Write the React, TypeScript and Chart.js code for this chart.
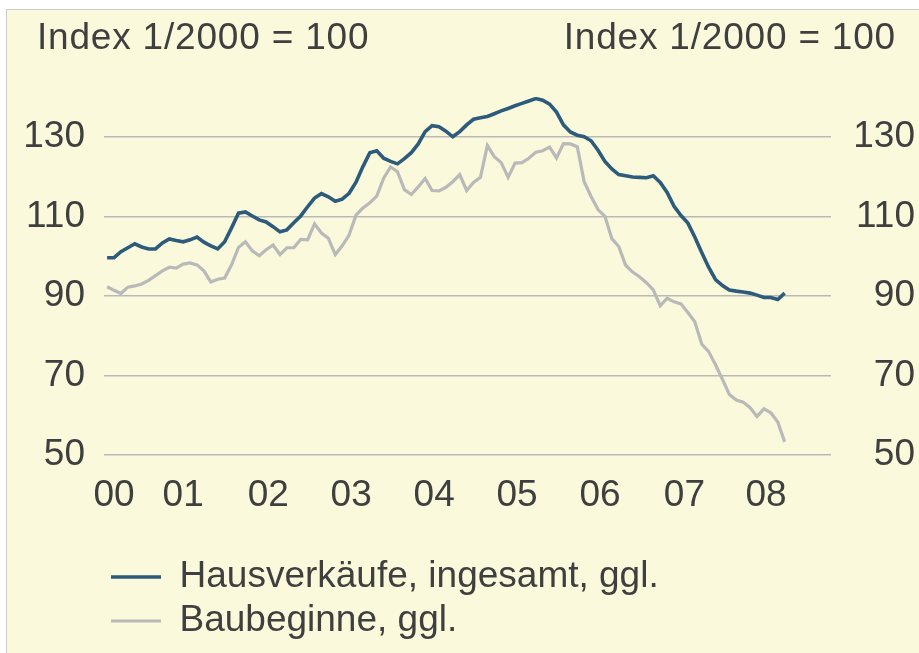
import React, { useEffect, useRef } from 'react';
import { Chart, registerables } from 'chart.js';

Chart.register(...registerables);

// Monthly observations, Jan 2000 .. Mar 2008 (index 0 = Jan 2000)
const hausverkaeufe = [
  99.6, 99.6, 101.1, 102.1, 103.1, 102.3, 101.8, 101.8, 103.3, 104.3, 103.9, 103.6,
  104.1, 104.8, 103.5, 102.6, 101.8, 103.6, 107.1, 110.8, 111.1, 110.1, 109.1, 108.6,
  107.4, 106.1, 106.6, 108.4, 110.1, 112.4, 114.6, 115.7, 114.9, 113.8, 114.3, 115.8,
  118.6, 122.5, 126.0, 126.5, 124.6, 123.8, 123.2, 124.5, 126.0, 128.2, 131.3, 132.8,
  132.5, 131.4, 130.0, 131.3, 133.0, 134.4, 134.8, 135.1, 135.8, 136.5, 137.1, 137.8,
  138.4, 139.0, 139.6, 139.2, 138.2, 136.2, 133.0, 131.2, 130.4, 130.0, 129.0, 126.6,
  123.8, 121.9, 120.5, 120.2, 119.9, 119.8, 119.7, 120.2, 118.5, 116.0, 112.5, 110.2,
  108.3, 104.8, 100.9, 97.2, 94.1, 92.6, 91.5, 91.2, 91.0, 90.7, 90.2, 89.6,
  89.6, 89.1, 90.7,
];

const baubeginne = [
  92.3, 91.4, 90.6, 92.2, 92.5, 93.0, 93.9, 95.1, 96.3, 97.2, 97.0, 98.0,
  98.3, 97.8, 96.3, 93.5, 94.2, 94.5, 97.8, 102.2, 103.6, 101.3, 100.1, 101.6,
  102.8, 100.4, 102.1, 102.1, 104.2, 104.1, 108.1, 105.8, 104.5, 100.4, 102.6, 105.3,
  110.3, 112.1, 113.4, 115.1, 119.6, 122.4, 121.2, 116.7, 115.5, 117.4, 119.5, 116.5,
  116.4, 117.3, 118.7, 120.5, 116.5, 118.5, 119.8, 127.8, 125.0, 123.5, 119.8, 123.4,
  123.5, 124.6, 126.1, 126.5, 127.4, 124.7, 128.3, 128.2, 127.5, 118.7, 115.0, 111.7,
  110.0, 104.4, 102.4, 97.7, 96.0, 94.8, 93.3, 91.5, 87.5, 89.4, 88.5, 88.0,
  85.8, 83.5, 77.9, 76.0, 72.7, 69.0, 65.2, 63.8, 63.3, 61.9, 59.7, 61.6,
  60.6, 58.3, 53.3,
];

const seriesLabels = ['Hausverkäufe, ingesamt, ggl.', 'Baubeginne, ggl.'];
const seriesColors = ['#2d5b7c', '#b9b9b9'];
const seriesWidths = [3.6, 3.2];

const xTickLabels = ['00', '01', '02', '03', '04', '05', '06', '07', '08'];
const xTickPositions = [1, 11, 23.3, 35.3, 47.3, 59.3, 71.3, 83.5, 95.3];
const xMin = -0.45;
const xMax = 104.7;

const yTicks = [50, 70, 90, 110, 130];
const yMin = 50;
const yMax = 140;

const axisTitle = 'Index 1/2000 = 100';

const FONT_FAMILY = '"Liberation Sans", Arial, Helvetica, sans-serif';
const TEXT_COLOR = '#3f3f3f';
const GRID_COLOR = '#b9b9b9';
const BG_COLOR = '#faf9db';
const FONT_SIZE = 37;

const headerPlugin = {
  id: 'headerTitles',
  afterDraw(chart: any) {
    const ctx = chart.ctx;
    ctx.save();
    ctx.font = `${FONT_SIZE}px ${FONT_FAMILY}`;
    try {
      (ctx as any).letterSpacing = '0.8px';
    } catch (e) {
      /* ignore */
    }
    ctx.fillStyle = TEXT_COLOR;
    ctx.textBaseline = 'alphabetic';
    ctx.textAlign = 'left';
    ctx.fillText(axisTitle, 37, 49);
    ctx.textAlign = 'right';
    ctx.fillText(axisTitle, 896, 49);
    ctx.restore();
  },
};

export default function App() {
  const canvasRef = useRef<HTMLCanvasElement | null>(null);

  useEffect(() => {
    const canvas = canvasRef.current;
    if (!canvas) return;
    const toPoints = (arr: number[]) => arr.map((v, i) => ({ x: i, y: v }));
    const font = { family: FONT_FAMILY, size: FONT_SIZE };
    const chart = new Chart(canvas, {
      type: 'line',
      data: {
        datasets: [
          {
            label: seriesLabels[0],
            data: toPoints(hausverkaeufe),
            borderColor: seriesColors[0],
            backgroundColor: seriesColors[0],
            borderWidth: seriesWidths[0],
            pointRadius: 0,
            tension: 0,
            yAxisID: 'y',
          },
          {
            label: seriesLabels[1],
            data: toPoints(baubeginne),
            borderColor: seriesColors[1],
            backgroundColor: seriesColors[1],
            borderWidth: seriesWidths[1],
            pointRadius: 0,
            tension: 0,
            yAxisID: 'y',
          },
        ],
      },
      options: {
        responsive: false,
        animation: false,
        devicePixelRatio: 1,
        layout: { padding: { left: 23, right: 4, top: 97, bottom: 3.5 } },
        plugins: {
          tooltip: { enabled: false },
          title: { display: false },
          legend: {
            display: true,
            position: 'bottom',
            align: 'start',
            fullSize: false,
            labels: {
              usePointStyle: true,
              pointStyle: 'line',
              pointStyleWidth: 50,
              boxHeight: 20,
              padding: 7,
              color: TEXT_COLOR,
              font,
            },
          },
        },
        scales: {
          x: {
            type: 'linear',
            min: xMin,
            max: xMax,
            grid: { display: false, drawTicks: false },
            border: { display: false },
            afterBuildTicks: (scale: any) => {
              scale.ticks = xTickPositions.map((v) => ({ value: v }));
            },
            afterFit: (scale: any) => {
              scale.height = 96.5;
            },
            ticks: {
              autoSkip: false,
              maxRotation: 0,
              minRotation: 0,
              padding: 19,
              color: TEXT_COLOR,
              font,
              callback: (_v: any, index: number) => xTickLabels[index],
            },
          },
          y: {
            type: 'linear',
            position: 'left',
            min: yMin,
            max: yMax,
            grid: { color: GRID_COLOR, lineWidth: 1.5, drawTicks: false },
            border: { display: false },
            afterBuildTicks: (scale: any) => {
              scale.ticks = yTicks.map((v) => ({ value: v }));
            },
            afterFit: (scale: any) => {
              scale.width = 81;
            },
            ticks: {
              padding: 19,
              color: TEXT_COLOR,
              font,
            },
          },
          y2: {
            type: 'linear',
            position: 'right',
            display: true,
            min: yMin,
            max: yMax,
            grid: { display: false, drawTicks: false },
            border: { display: false },
            afterBuildTicks: (scale: any) => {
              scale.ticks = yTicks.map((v) => ({ value: v }));
            },
            afterFit: (scale: any) => {
              scale.width = 84;
            },
            ticks: {
              padding: 22,
              crossAlign: 'far',
              color: TEXT_COLOR,
              font,
            },
          },
        },
      },
      plugins: [headerPlugin],
    } as any);
    return () => chart.destroy();
  }, []);

  return (
    <div
      style={{
        position: 'fixed',
        left: 0,
        top: 0,
        width: 919,
        height: 653,
        background: '#ffffff',
        overflow: 'hidden',
      }}
    >
      <div
        style={{
          position: 'absolute',
          left: 6,
          top: 9,
          right: 0,
          bottom: 0,
          background: BG_COLOR,
          borderTop: '1px solid #cccccc',
          borderLeft: '1px solid #cccccc',
          boxSizing: 'border-box',
        }}
      />
      <canvas
        ref={canvasRef}
        width={919}
        height={653}
        style={{ position: 'absolute', left: 0, top: 0, width: 919, height: 653, display: 'block' }}
      />
    </div>
  );
}
